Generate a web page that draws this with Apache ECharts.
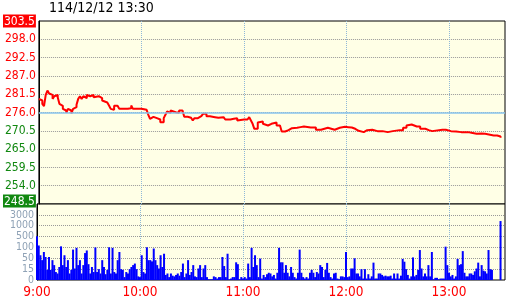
<!DOCTYPE html>
<html><head><meta charset="utf-8">
<script src="https://cdn.jsdelivr.net/npm/echarts@6/dist/echarts.min.js"></script>
<style>html,body{margin:0;padding:0;background:#fff}#c{width:520px;height:300px}</style>
</head><body><div id="c"></div>
<script>
const titleText = '114/12/12 13:30';
const priceMin = 248.5, priceMax = 303.5, priceStep = 5.5;
const refPrice = 276.0;
const timeLabels = ['9:00', '10:00', '11:00', '12:00', '13:00'];
const volBreaks = [0, 15, 50, 100, 500, 1000, 3000, 5000];
const volLabels = ['0', '15', '50', '100', '500', '1000', '3000', ''];

// minutes after 9:00
const priceMinutes = [0,1,2,3,4,5,6,7,8,9,10,11,12,13,14,15,16,17,18,19,20,21,22,23,24,25,26,27,28,29,30,32,33,35,36,37,38,40,41,42,43,44,46,47,49,50,52,54,55,58,60,63,64,65,66,67,69,70,71,73,74,75,76,77,78,80,82,84,85,87,89,90,91,93,95,96,98,100,103,105,108,109,112,114,116,117,120,122,123,124,125,126,128,129,131,132,134,136,137,139,141,142,144,146,148,151,153,155,159,162,165,167,169,173,176,179,181,183,185,187,190,192,195,198,201,204,207,211,213,215,216,218,221,223,226,228,230,236,238,241,244,247,248,251,253,256,259,261,266,268,270];
const prices = [280.1,279.6,278.6,277.9,281.3,282.6,281.7,281.3,280.1,280.9,281.3,280.6,278.6,278.0,277.1,276.6,275.9,277.1,276.6,275.7,277.1,277.6,278.3,280.1,280.9,280.1,280.9,280.3,281.3,280.9,281.3,280.6,280.9,280.5,280.3,279.6,279.0,279.0,278.1,277.1,276.8,278.0,277.6,277.1,277.4,277.1,277.3,278.1,277.1,277.1,276.8,276.8,275.3,274.1,274.7,274.3,274.4,273.9,273.1,274.3,275.3,276.3,275.9,276.6,276.1,275.9,276.6,276.1,274.7,274.4,273.9,273.6,274.3,274.9,275.3,275.6,274.9,274.6,274.4,274.6,274.6,273.9,274.1,274.3,273.6,273.9,273.9,274.3,274.6,273.6,272.6,271.1,273.0,273.3,272.6,272.1,272.6,272.2,273.0,272.1,271.6,270.3,270.7,271.3,271.4,271.6,271.8,271.5,271.5,270.8,271.1,271.4,270.8,271.4,271.7,271.6,271.5,271.1,270.5,270.1,270.7,270.8,270.4,270.4,270.1,270.4,270.7,270.7,271.4,272.1,272.4,271.8,271.8,271.1,270.7,270.4,270.8,270.8,270.4,270.3,270.1,269.6,270.1,269.9,269.6,269.7,269.6,269.1,269.1,268.8,268.4];

// one volume per minute, 9:00 .. 13:30
const volumes = [520,172,64,44,79,56,14,56,14,44,
 28,11,9,22,140,28,64,22,44,9,
 14,90,17,98,28,44,9,28,74,86,
 31,9,22,11,100,11,15,9,44,22,
 8,14,105,9,98,11,9,44,79,15,
 14,4,11,9,15,22,28,33,15,5,
 4,64,11,9,105,44,44,40,95,44,
 28,17,64,22,71,7,9,4,9,6,
 5,7,9,6,11,33,4,9,44,7,
 11,28,5,
 4,17,28,4,17,28,4,1,1,1,
 5,4,2,4,4,56,25,4,71,1,
 2,4,4,37,31,1,4,2,4,2,
 33,4,98,22,64,28,4,49,2,7,
 4,8,10,9,5,7,2,10,98,37,
 37,10,28,10,5,22,10,4,2,10,
 90,10,4,2,4,2,10,14,10,4,
 11,9,28,22,4,14,35,10,4,2,
 9,10,2,1,5,5,4,79,4,5,
 17,17,50,9,9,5,15,2,15,2,
 8,2,5,36,2,2,9,9,7,5,
 6,5,5,6,2,9,2,9,2,6,
 48,39,15,7,2,5,54,5,7,14,
 88,17,5,9,5,28,5,79,1,3,
 3,1,2,2,2,128,28,10,5,7,
 2,5,48,28,31,83,10,5,5,9,
 9,7,12,17,36,5,28,13,12,9,
 88,15,14,0,0,0,0,1860];

function volPos(v) {
  for (let i = 0; i < volBreaks.length - 1; i++) {
    if (v <= volBreaks[i + 1]) return i + (v - volBreaks[i]) / (volBreaks[i + 1] - volBreaks[i]);
  }
  return volBreaks.length - 1;
}

const FONT = '"Liberation Sans Narrow","Arial Narrow","DejaVu Sans Condensed","Liberation Sans",sans-serif';
const BG = '#ffffe6';
const XMAX = 272.6;

const chart = echarts.init(document.getElementById('c'), null, {renderer: 'canvas'});
chart.setOption({
  animation: false,
  backgroundColor: '#fff',
  title: {text: titleText, left: 49, top: 1, padding: 0,
    textStyle: {fontFamily: FONT, fontSize: 14, fontWeight: 'normal', color: '#000'}},
  grid: [
    {left: 37, top: 21, width: 468, height: 183, show: true, backgroundColor: BG, borderColor: '#000', borderWidth: 1},
    {left: 37, top: 204, width: 468, height: 76, show: true, backgroundColor: BG, borderColor: '#000', borderWidth: 1}
  ],
  xAxis: [
    {gridIndex: 0, type: 'value', min: 0, max: XMAX, interval: 60,
     axisLine: {show: false}, axisTick: {show: false}, axisLabel: {show: false},
     splitLine: {show: true, showMinLine: false, showMaxLine: false, lineStyle: {color: '#8fb8d8', type: 'dotted', width: 1}}},
    {gridIndex: 1, type: 'value', min: 0, max: XMAX, interval: 60,
     axisLine: {show: false}, axisTick: {show: false},
     axisLabel: {show: true, margin: 5, color: '#ff0000', fontFamily: FONT, fontSize: 13.5, showMaxLabel: false,
       formatter: v => (v % 60 === 0 && timeLabels[v / 60]) ? timeLabels[v / 60] : ''},
     splitLine: {show: true, showMinLine: false, showMaxLine: false, lineStyle: {color: '#8fb8d8', type: 'dotted', width: 1}}}
  ],
  yAxis: [
    {gridIndex: 0, type: 'value', min: 0, max: priceMax - priceMin, interval: priceStep,
     axisLine: {show: true, lineStyle: {color: '#000', width: 1}}, axisTick: {show: false},
     splitLine: {show: true, showMinLine: false, showMaxLine: false, lineStyle: {color: '#999', type: 'dotted', width: 1}},
     axisLabel: {margin: 3, fontFamily: FONT, fontSize: 12, showMinLabel: true, hideOverlap: false,
       formatter: v => {
         const p = Math.round((v + priceMin) * 10) / 10;
         const t = p.toFixed(1);
         if (Math.abs(p - priceMax) < 0.01) return '{hi|' + t + '}';
         if (Math.abs(p - priceMin) < 0.01) return '{lo|' + t + '}\n{sp|}';
         return p >= refPrice ? '{up|' + t + '}' : '{dn|' + t + '}';
       },
       rich: {
         up: {color: '#ff0000', fontFamily: FONT, fontSize: 12},
         dn: {color: '#118811', fontFamily: FONT, fontSize: 12},
         hi: {color: '#fff', backgroundColor: '#ff0000', fontFamily: FONT, fontSize: 12, padding: [1, 1, 0, 1]},
         lo: {color: '#fff', backgroundColor: '#118811', fontFamily: FONT, fontSize: 12, padding: [1, 1, 0, 1]},
         sp: {fontSize: 1, lineHeight: 6}
       }}},
    {gridIndex: 1, type: 'value', min: 0, max: volBreaks.length - 1, interval: 1,
     axisLine: {show: true, lineStyle: {color: '#000', width: 1}}, axisTick: {show: false},
     splitLine: {show: true, showMinLine: false, showMaxLine: false, lineStyle: {color: '#999', type: 'dotted', width: 1}},
     axisLabel: {margin: 3, fontFamily: FONT, fontSize: 10.5, color: '#8fa2b6', showMaxLabel: false,
       formatter: v => volLabels[Math.round(v)] || ''}}
  ],
  series: [
    {type: 'line', xAxisIndex: 0, yAxisIndex: 0, step: 'end', symbol: 'none',
     data: priceMinutes.map((m, i) => [m, prices[i] - priceMin]),
     lineStyle: {color: '#ff0000', width: 2},
     markLine: {silent: true, symbol: 'none', label: {show: false},
       lineStyle: {color: '#88c4ee', type: 'solid', width: 1.5},
       data: [{yAxis: refPrice - priceMin}]},
     z: 3},
    {type: 'bar', xAxisIndex: 1, yAxisIndex: 1, barWidth: 2,
     data: volumes.map((v, i) => [i, volPos(v)]),
     itemStyle: {color: '#0000ff'}}
  ]
});
</script></body></html>
